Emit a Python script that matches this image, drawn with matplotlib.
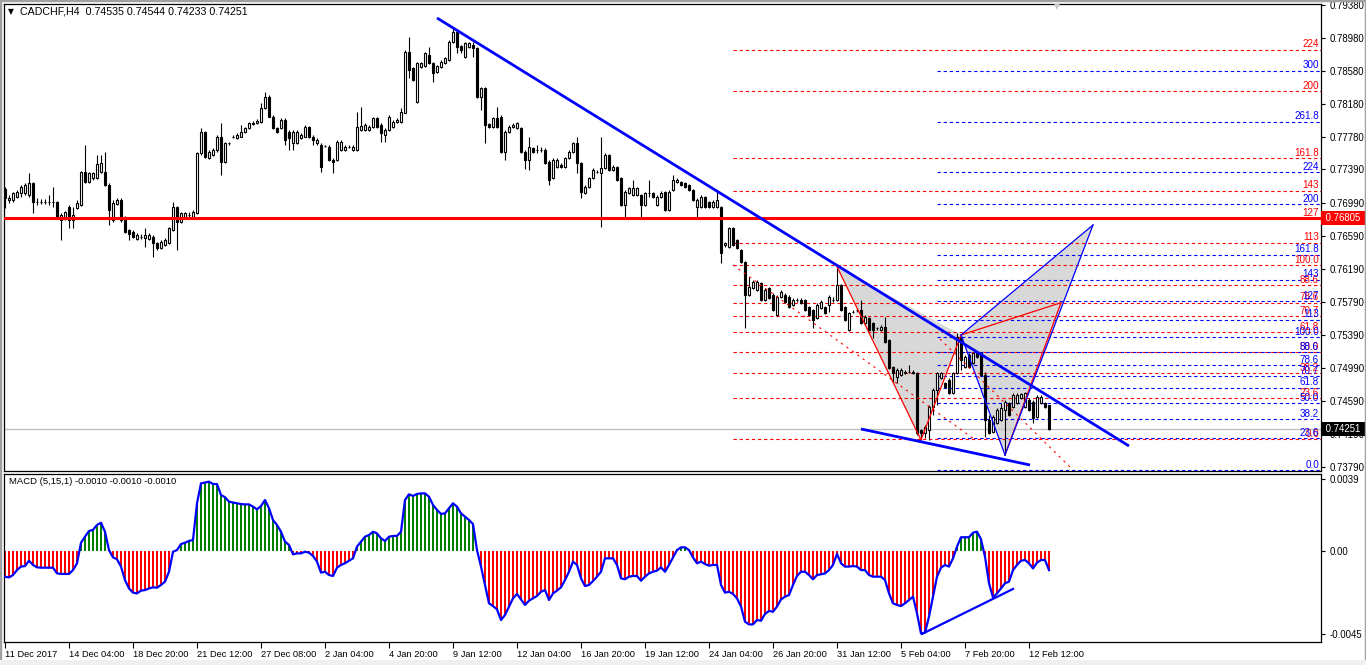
import numpy as np
import matplotlib.pyplot as plt
from matplotlib.patches import Polygon, Rectangle
import matplotlib.transforms as mtransforms

W, H = 1366, 665

# CADCHF H4 candles, prices in points (1e-5)
opens = [77149, 77020, 77020, 77060, 77101, 77101, 77081, 77222, 77000, 77000,
         77000, 76996, 76992, 77000, 76778, 76798, 76940, 76778, 76919, 76960,
         77363, 77242, 77282, 77282, 77363, 77363, 77202, 76778, 76972, 77020,
         76819, 76657, 76637, 76552, 76577, 76556, 76552, 76577, 76504, 76436,
         76476, 76496, 76657, 76932, 76758, 76798, 76839, 76819, 76859, 77585,
         77847, 77524, 77565, 77625, 77786, 77484, 77706, 77786, 77766, 77786,
         77839, 77887, 77940, 77948, 77968, 78129, 78270, 78028, 77895, 77887,
         77988, 77847, 77706, 77706, 77766, 77786, 77907, 77786, 77706, 77686,
         77674, 77666, 77504, 77504, 77625, 77625, 77666, 77625, 77625, 77867,
         77867, 77867, 77907, 78008, 77928, 77807, 77867, 77907, 77968, 77968,
         78077, 78815, 78613, 78210, 78633, 78641, 78775, 78682, 78573, 78633,
         78674, 78714, 78936, 79057, 78883, 78754, 78875, 78896, 78855, 78270,
         78371, 77936, 77907, 78008, 78028, 77605, 77847, 77899, 77887, 77895,
         77605, 77504, 77645, 77625, 77625, 77625, 77484, 77282, 77424, 77444,
         77424, 77524, 77605, 77706, 77464, 77101, 77182, 77282, 77363, 77343,
         77403, 77565, 77383, 77424, 77282, 76960, 77101, 77081, 77081, 77081,
         76960, 77101, 77101, 76960, 77060, 77121, 76899, 77141, 77242, 77242,
         77222, 77202, 77141, 76940, 76940, 77060, 77000, 76940, 76940, 76940,
         76476, 76456, 76677, 76536, 76415, 76274, 75871, 75952, 75931, 76012,
         75810, 75952, 75871, 75629, 75851, 75871, 75851, 75750, 75810, 75810,
         75810, 75730, 75689, 75589, 75710, 75730, 75750, 75810, 75810, 75992,
         75730, 75447, 75669, 75689, 75689, 75528, 75589, 75528, 75468, 75447,
         75488, 75326, 75004, 74883, 74903, 74923, 74943, 74923, 74923, 74237,
         74197, 74237, 74520, 74721, 74862, 74802, 74842, 74681, 74923, 75367,
         75004, 75145, 75044, 75165, 75165, 74903, 74358, 74217, 74318, 74358,
         74479, 74560, 74520, 74560, 74621, 74520, 74600, 74580, 74399, 74560,
         74560, 74535]
highs = [77182, 77081, 77121, 77141, 77202, 77222, 77343, 77242, 77040, 77028,
         77028, 77081, 77182, 77008, 76859, 76891, 76960, 76940, 77020, 77375,
         77686, 77363, 77363, 77565, 77565, 77605, 77222, 77020, 77040, 77040,
         76827, 76665, 76657, 76617, 76609, 76677, 76617, 76597, 76516, 76536,
         76556, 76698, 77000, 76948, 76879, 76879, 76879, 76899, 77605, 77887,
         77859, 77625, 77645, 77807, 77948, 77726, 77726, 77807, 77827, 77928,
         77907, 77968, 77980, 77996, 78190, 78331, 78291, 78049, 77907, 78008,
         78008, 77867, 77867, 77867, 77827, 77928, 77916, 77807, 77766, 77706,
         77686, 77682, 77524, 77746, 77746, 77686, 77686, 77686, 78089, 78150,
         77948, 77928, 78028, 78020, 77948, 77887, 78049, 77988, 78008, 78129,
         78835, 78996, 78633, 78694, 78694, 78815, 78875, 78694, 78654, 78714,
         78754, 78956, 79097, 79069, 78896, 78936, 78936, 78936, 78875, 78391,
         78383, 77948, 78028, 78150, 78049, 77867, 77928, 77956, 77968, 77907,
         77625, 77786, 77666, 77686, 77666, 77645, 77504, 77524, 77524, 77464,
         77544, 77625, 77726, 77786, 77476, 77202, 77302, 77403, 77383, 77786,
         77585, 77577, 77444, 77436, 77294, 77141, 77182, 77262, 77182, 77093,
         77121, 77262, 77113, 77081, 77129, 77133, 77141, 77323, 77282, 77254,
         77234, 77214, 77153, 77040, 77081, 77073, 77012, 77020, 77121, 76952,
         76516, 76698, 76698, 76548, 76427, 76286, 76093, 76052, 76052, 76032,
         75952, 75972, 75891, 75871, 75931, 75891, 75871, 75830, 75830, 75830,
         75822, 75742, 75701, 75770, 75810, 75742, 75871, 75851, 76214, 76004,
         75742, 75669, 75689, 75710, 75810, 75629, 75609, 75540, 75488, 75508,
         75609, 75339, 75016, 74984, 74984, 74964, 75024, 74964, 74935, 74250,
         74298, 74540, 74742, 74943, 74943, 74822, 74862, 74943, 75407, 75387,
         75145, 75165, 75185, 75185, 75177, 74935, 74419, 74419, 74500, 74560,
         74600, 74580, 74681, 74681, 74689, 74701, 74621, 74600, 74661, 74661,
         74580, 74544]
lows = [76919, 76980, 77000, 77040, 77060, 77081, 77060, 76859, 76960, 76972,
        76972, 76960, 76940, 76786, 76536, 76778, 76677, 76677, 76907, 76948,
        77230, 77230, 77262, 77270, 77343, 77190, 76718, 76758, 76960, 76758,
        76625, 76536, 76556, 76536, 76544, 76456, 76536, 76335, 76415, 76423,
        76464, 76484, 76649, 76415, 76746, 76786, 76798, 76806, 76847, 77565,
        77524, 77512, 77553, 77605, 77323, 77472, 77686, 77766, 77754, 77778,
        77827, 77875, 77928, 77936, 77956, 78117, 78020, 77875, 77827, 77875,
        77686, 77625, 77625, 77698, 77754, 77778, 77766, 77686, 77686, 77363,
        77658, 77492, 77343, 77492, 77613, 77613, 77645, 77613, 77613, 77855,
        77855, 77855, 77895, 77895, 77726, 77726, 77855, 77895, 77956, 77956,
        78069, 78492, 78460, 78198, 78621, 78633, 78662, 78452, 78561, 78621,
        78662, 78702, 78924, 78795, 78795, 78742, 78863, 78754, 78258, 78109,
        77706, 77895, 77895, 77895, 77593, 77504, 77835, 77887, 77875, 77593,
        77391, 77383, 77593, 77585, 77605, 77452, 77202, 77270, 77411, 77411,
        77411, 77512, 77593, 77343, 77040, 77089, 77169, 77270, 77343, 76698,
        77391, 77371, 77371, 77250, 76948, 76819, 77089, 77069, 77069, 76819,
        76948, 77060, 77048, 76948, 77048, 76887, 76887, 77129, 77230, 77190,
        77169, 77129, 77008, 76819, 76927, 76927, 76927, 76927, 76927, 76254,
        76456, 76444, 76464, 76423, 76262, 75468, 75859, 75939, 75919, 75798,
        75798, 75818, 75677, 75617, 75839, 75778, 75718, 75738, 75790, 75758,
        75677, 75617, 75468, 75576, 75697, 75637, 75669, 75790, 75798, 75677,
        75556, 75435, 75649, 75669, 75516, 75516, 75435, 75347, 75447, 75435,
        75294, 74972, 74822, 74802, 74891, 74911, 74923, 74911, 74177, 74116,
        74137, 74116, 74419, 74540, 74850, 74750, 74669, 74669, 74911, 74964,
        74992, 74992, 75032, 75113, 74891, 74157, 74185, 74205, 74306, 74346,
        73935, 74407, 74508, 74548, 74609, 74508, 74467, 74318, 74387, 74548,
        74508, 74233]
closes = [77040, 77040, 77101, 77121, 77182, 77202, 77222, 77000, 77000, 77000,
          77000, 76996, 76992, 76798, 76839, 76871, 76778, 76839, 76980, 77363,
          77242, 77343, 77343, 77456, 77464, 77202, 76899, 76980, 77020, 76778,
          76637, 76609, 76569, 76597, 76577, 76597, 76597, 76496, 76436, 76516,
          76536, 76677, 76932, 76758, 76859, 76859, 76839, 76879, 77585, 77847,
          77536, 77605, 77625, 77786, 77484, 77706, 77706, 77786, 77807, 77847,
          77887, 77948, 77956, 77980, 78129, 78270, 78028, 77887, 77847, 77988,
          77746, 77766, 77847, 77847, 77807, 77907, 77786, 77746, 77746, 77424,
          77674, 77504, 77484, 77726, 77726, 77666, 77666, 77666, 77907, 77916,
          77928, 77907, 78008, 77907, 77827, 77867, 78028, 77968, 77988, 78089,
          78815, 78593, 78472, 78674, 78674, 78795, 78674, 78553, 78641, 78694,
          78734, 78936, 79057, 78875, 78835, 78916, 78916, 78855, 78270, 78371,
          77928, 77907, 78008, 77907, 77605, 77847, 77907, 77928, 77948, 77605,
          77504, 77666, 77605, 77625, 77625, 77464, 77262, 77504, 77504, 77424,
          77524, 77605, 77706, 77464, 77121, 77182, 77282, 77383, 77363, 77403,
          77565, 77383, 77424, 77262, 76960, 77121, 77161, 77161, 77161, 76960,
          77101, 77101, 77060, 77060, 77109, 76899, 77121, 77262, 77262, 77202,
          77182, 77141, 77020, 77020, 77060, 76940, 76940, 77000, 77020, 76375,
          76496, 76677, 76476, 76436, 76274, 75871, 75972, 76032, 76032, 75810,
          75931, 75830, 75689, 75851, 75911, 75790, 75730, 75810, 75810, 75770,
          75689, 75629, 75568, 75750, 75790, 75649, 75851, 75810, 75992, 75689,
          75568, 75649, 75669, 75689, 75528, 75609, 75447, 75447, 75468, 75488,
          75306, 74984, 74923, 74964, 74964, 74943, 74943, 74943, 74197, 74197,
          74278, 74520, 74721, 74923, 74923, 74762, 74681, 74923, 75367, 75084,
          75125, 75004, 75165, 75125, 74903, 74358, 74197, 74399, 74479, 74500,
          74580, 74419, 74661, 74661, 74673, 74681, 74479, 74379, 74641, 74641,
          74520, 74251]

# MACD (5,15,1) main line, in units of 1e-4
macd_vals = [-14.0, -14.4, -13.1, -10.4, -8.5, -8.2, -5.3, -7.6, -8.9, -9.1,
             -9.1, -9.1, -9.1, -12.2, -12.5, -12.5, -12.5, -10.4, -6.7, 4.5,
             7.8, 10.9, 11.5, 14.2, 15.4, 10.5, 0.5, -3.5, -4.5, -8.5,
             -15.8, -20.4, -22.7, -23.1, -21.6, -21.3, -20.4, -19.8, -20.0, -18.5,
             -16.7, -11.3, -0.4, 0.5, 3.8, 4.5, 5.5, 6.0, 26.0, 36.9,
             37.3, 37.8, 36.5, 36.5, 30.5, 29.3, 26.9, 26.4, 26.0, 25.6,
             25.4, 25.4, 24.2, 22.7, 24.5, 27.8, 23.3, 16.9, 14.2, 10.5,
             5.1, 3.3, -1.8, -1.3, -1.3, -0.4, -0.9, -2.7, -5.8, -11.8,
             -11.3, -13.1, -13.6, -9.1, -7.6, -6.7, -5.3, -4.0, 2.4, 5.1,
             7.8, 8.7, 10.5, 9.6, 6.9, 5.5, 7.8, 8.2, 8.2, 10.5,
             27.8, 30.9, 30.0, 31.1, 31.4, 31.4, 29.6, 25.1, 22.4, 20.2,
             20.5, 23.3, 26.0, 24.2, 20.5, 18.7, 16.9, 14.7, 0.5, -8.5,
             -18.5, -28.5, -30.0, -31.8, -37.6, -34.9, -30.3, -25.8, -23.4, -26.4,
             -29.4, -27.1, -25.8, -24.5, -22.2, -21.3, -26.7, -23.1, -21.6, -19.8,
             -15.8, -11.3, -5.8, -7.6, -14.9, -19.1, -18.5, -16.4, -14.0, -11.3,
             -4.0, -4.0, -4.0, -7.6, -14.9, -15.4, -14.0, -13.6, -13.6, -16.2,
             -14.0, -12.2, -11.3, -10.7, -8.9, -11.3, -7.6, -3.5, 0.5, 2.0,
             2.0, 0.5, -3.5, -6.7, -5.8, -7.1, -8.0, -7.6, -7.6, -18.5,
             -22.7, -22.2, -23.4, -25.8, -30.3, -38.5, -40.0, -40.0, -37.6, -38.0,
             -34.3, -32.7, -33.1, -30.3, -26.4, -24.9, -24.0, -18.5, -13.6, -11.3,
             -11.3, -13.1, -15.4, -13.1, -12.7, -12.2, -10.4, -7.6, -1.6, -6.7,
             -8.5, -8.5, -8.2, -8.5, -10.4, -10.4, -13.1, -14.0, -14.0, -14.0,
             -15.8, -23.1, -28.5, -29.4, -30.0, -28.5, -26.7, -24.9, -34.0, -44.9,
             -44.5, -35.8, -24.9, -14.0, -9.1, -7.6, -8.5, -4.0, 2.4, 7.5,
             7.5, 7.5, 10.0, 10.5, 6.4, -3.1, -17.6, -25.3, -23.1, -20.4,
             -17.6, -16.7, -10.4, -7.6, -5.3, -4.9, -6.7, -9.5, -6.4, -4.9,
             -4.9, -10.4]

time_ticks = [0, 16, 32, 48, 64, 80, 96, 112, 128, 144, 160, 176, 192, 208, 224, 240, 256]
time_labels = ['11 Dec 2017', '14 Dec 04:00', '18 Dec 20:00', '21 Dec 12:00', '27 Dec 08:00',
               '2 Jan 04:00', '4 Jan 20:00', '9 Jan 12:00', '12 Jan 04:00', '16 Jan 20:00',
               '19 Jan 12:00', '24 Jan 04:00', '26 Jan 20:00', '31 Jan 12:00', '5 Feb 04:00',
               '7 Feb 20:00', '12 Feb 12:00']
price_ticks = [0.79380, 0.78980, 0.78580, 0.78180, 0.77780, 0.77390, 0.76990, 0.76590,
               0.76190, 0.75790, 0.75390, 0.74990, 0.74590, 0.74190, 0.73790]
macd_ticks = [0.0039, 0.0, -0.0045]
macd_tick_labels = ['0.0039', '0.00', '-0.0045']

level_price = 0.76805
last_price = 0.74251

# harmonic pattern points (bar index, price)
pX, pA, pB, pD = (208, 0.76214), (229, 0.74116), (239, 0.75387), (250, 0.73935)
red_apex, blue_apex = (264, 0.75778), (272, 0.76718)

# trend lines (bar index, price)
trend_upper = [(108, 0.79223), (281, 0.74044)]
trend_lower = [(214, 0.74250), (256.25, 0.73814)]
diag1 = [(182, 0.76234), (242.5, 0.74120)]
diag2 = [(233.75, 0.75338), (266.25, 0.73790)]
macd_trend = [(229.25, -0.00452), (252, -0.00207)]

# fibo tools: (0 %, 100 %) prices, ratios and start bar
red_fib = (0.74125, 0.76230)
red_ratios = [0, 23.6, 38.2, 50, 61.8, 70.7, 78.6, 88.6, 100, 113, 127, 143, 161.8, 200, 224]
red_start = 182
blue_fib = (0.73755, 0.75365)
blue_ratios = [0, 23.6, 38.2, 50, 61.8, 70.7, 78.6, 88.6, 100, 113, 127, 143, 161.8, 200, 224, 261.8, 300]
blue_start = 233

o = np.array(opens) / 1e5
h = np.array(highs) / 1e5
l = np.array(lows) / 1e5
c = np.array(closes) / 1e5
macd = np.array(macd_vals) / 1e4
x = np.arange(len(o))

plt.rcParams['font.family'] = ['Liberation Sans', 'DejaVu Sans']
FS = 6.9


def rect(x0, y0, x1, y1):
    return [x0 / W, 1 - y1 / H, (x1 - x0) / W, (y1 - y0) / H]


fig = plt.figure(figsize=(W / 100, H / 100), dpi=100)
# outer window frame
fig.patches.append(Rectangle((0, 0), 1, 1, transform=fig.transFigure, fill=False,
                             edgecolor='#a0a0a0', lw=2.5))
fig.patches.append(Rectangle((0, 0), 1, 5 / H, transform=fig.transFigure,
                             facecolor='#f0f0f0', edgecolor='none'))

ax = fig.add_axes(rect(4, 4, 1321, 471))
ax2 = fig.add_axes(rect(4, 474, 1321, 642), sharex=ax)

PX = 0.000121
ax.set_xlim(-0.25, 329)
ax.set_ylim(0.79380 - 466 * PX, 0.79380 + 1 * PX)
ax2.set_ylim(-91 * 0.0000545, 77 * 0.0000545)

RED, BLUE, GREEN = '#ff0000', '#0000ff', '#008000'

# fibo levels
xr = ax.get_xlim()[1]
for (lo, hi), ratios, start, col in [(red_fib, red_ratios, red_start, RED),
                                     (blue_fib, blue_ratios, blue_start, BLUE)]:
    for r in ratios:
        y = lo + (hi - lo) * r / 100
        ax.plot([start, xr], [y, y], color=col, lw=0.8, ls=(0, (3, 2.5)), zorder=2)
        lab = f'{r:.1f}' if r in (0, 23.6, 38.2, 50, 61.8, 70.7, 78.6, 88.6, 100, 161.8, 261.8) else f'{r:g}'
        ax.text(xr - 0.5, y + 0.00003, lab, color=col, fontsize=FS + 0.2, ha='right', va='bottom', zorder=3)

# pattern fills
ax.add_patch(Polygon([pX, pA, pB], closed=True, facecolor='#d8d8d8', edgecolor='none', zorder=1))
ax.add_patch(Polygon([pB, blue_apex, pD], closed=True, facecolor='#d8d8d8', edgecolor='none', zorder=1))

# level lines
ax.axhline(last_price, color='#c0c0c0', lw=1, zorder=1.5)
ax.axhline(level_price, color=RED, lw=2.2, zorder=5)

# candles
ax.vlines(x, l, h, color='black', lw=0.8, zorder=3)
up = c >= o
ax.bar(x, np.abs(c - o), bottom=np.minimum(o, c), width=0.6,
       color=np.where(up, 'white', 'black'), edgecolor='black', linewidth=0.8, zorder=4)

# pattern lines
for p1, p2, col in [(pX, pA, RED), (pA, pB, RED), (pB, red_apex, RED), (red_apex, pD, RED),
                    (pB, blue_apex, BLUE), (blue_apex, pD, BLUE), (pB, pD, BLUE)]:
    ax.plot([p1[0], p2[0]], [p1[1], p2[1]], color=col, lw=0.9, zorder=6)
for seg in (diag1, diag2):
    ax.plot(*zip(*seg), color=RED, lw=0.8, ls=(0, (2, 4)), zorder=6)
for seg in (trend_upper, trend_lower):
    ax.plot(*zip(*seg), color=BLUE, lw=2, zorder=7, solid_capstyle='butt')

# price axis
ax.yaxis.tick_right()
ax.set_yticks(price_ticks)
ax.set_yticklabels([f'{p:.5f}' for p in price_ticks])
ax.tick_params(axis='y', direction='out', length=3, labelsize=FS, pad=3)
ax.tick_params(axis='x', bottom=False, labelbottom=False)
trans = mtransforms.blended_transform_factory(ax.transAxes, ax.transData)
ax.text(1.0015, level_price, ' 0.76805 ', transform=trans, fontsize=FS, color='white', va='center', ha='left',
        bbox=dict(boxstyle='square,pad=0.2', fc=RED, ec='none'), zorder=10, clip_on=False)
ax.text(1.0015, last_price, ' 0.74251 ', transform=trans, fontsize=FS, color='white', va='center', ha='left',
        bbox=dict(boxstyle='square,pad=0.2', fc='black', ec='none'), zorder=10, clip_on=False)

# MACD panel
ax2.bar(x, macd, width=0.45, color=np.where(macd >= 0, GREEN, RED), zorder=2)
ax2.plot(x, macd, color=BLUE, lw=1.6, zorder=3)
ax2.plot(*zip(*macd_trend), color=BLUE, lw=1.6, zorder=4)
ax2.yaxis.tick_right()
ax2.set_yticks(macd_ticks)
ax2.set_yticklabels(macd_tick_labels)
ax2.tick_params(axis='y', direction='out', length=3, labelsize=FS, pad=3)
ax2.set_xticks(time_ticks)
ax2.set_xticklabels(time_labels)
ax2.tick_params(axis='x', direction='out', length=4, labelsize=FS - 0.2, pad=1.5)
for lab in ax2.get_xticklabels():
    lab.set_horizontalalignment('left')

for a in (ax, ax2):
    for s in a.spines.values():
        s.set_linewidth(0.9)
        s.set_color('black')

# headers
fig.text(8 / W, 1 - 12 / H, '\u25bc', fontsize=5.5, va='center', ha='left', family='DejaVu Sans')
fig.text(20 / W, 1 - 12 / H, 'CADCHF,H4  0.74535 0.74544 0.74233 0.74251', fontsize=7.7,
         va='center', ha='left')
fig.text(9 / W, 1 - 482 / H, 'MACD (5,15,1) -0.0010 -0.0010 -0.0010', fontsize=6.8,
         va='center', ha='left')
fig.text(1057 / W, 1 - 7 / H, '\u25bc', fontsize=5.5, color='#c8c8c8', va='center', ha='center',
         family='DejaVu Sans')

fig.savefig('out.png', dpi=100, facecolor='white')
